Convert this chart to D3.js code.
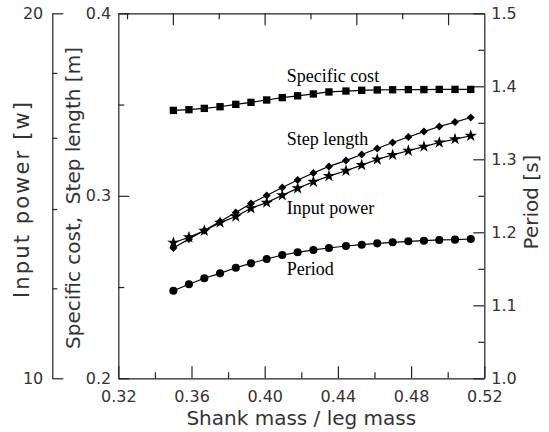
<!DOCTYPE html>
<html>
<head>
  <meta charset="UTF-8">
  <style>
    body { margin: 0; background: #fff; }
    svg { display: block; }
    .axis text { font-family: "DejaVu Sans", sans-serif; font-size: 16px; fill: #333; }
    .axis path, .axis line { stroke: #222; stroke-width: 1.2px; }
    .title { font-family: "DejaVu Sans", sans-serif; font-size: 20px; fill: #333; }
    .note { font-family: "Liberation Serif", "Times New Roman", serif; font-size: 18px; fill: #000; }
  </style>
</head>
<body>
<div id="chart"></div>
<script src="https://d3js.org/d3.v7.min.js"></script>
<script>
// shank mass / leg mass
const massRatio = [0.3501, 0.3586, 0.3670, 0.3756, 0.3842, 0.3925, 0.4011, 0.4096, 0.4180, 0.4266,
                   0.4351, 0.4444, 0.4530, 0.4615, 0.4699, 0.4785, 0.4870, 0.4954, 0.5040, 0.5126];
// left inner axis (0.2 - 0.4)
const specificCost = [0.3468, 0.3472, 0.3479, 0.3488, 0.3501, 0.3512, 0.3525, 0.3538, 0.3548, 0.3558,
                      0.3569, 0.3574, 0.3578, 0.3580, 0.3581, 0.3582, 0.3582, 0.3583, 0.3583, 0.3583];
const stepLength = [0.2714, 0.2763, 0.2810, 0.2859, 0.2908, 0.2958, 0.3002, 0.3045, 0.3087, 0.3125,
                    0.3161, 0.3193, 0.3226, 0.3259, 0.3292, 0.3322, 0.3352, 0.3380, 0.3404, 0.3429];
// left outer axis [W]
const inputPower = [13.12, 13.26, 13.43, 13.64, 13.80, 14.02, 14.17, 14.37, 14.56, 14.74,
                    14.90, 15.05, 15.21, 15.37, 15.50, 15.62, 15.74, 15.86, 15.96, 16.06];
// right axis [s]
const period = [1.1200, 1.1288, 1.1370, 1.1438, 1.1515, 1.1575, 1.1634, 1.1689, 1.1726, 1.1758,
                1.1785, 1.1812, 1.1830, 1.1849, 1.1863, 1.1877, 1.1885, 1.1895, 1.1899, 1.1908];

const xTicks = [0.32, 0.36, 0.40, 0.44, 0.48, 0.52];
const xMinor = [0.34, 0.38, 0.42, 0.46, 0.50];
const leftTicks = [0.2, 0.3, 0.4];
const leftMinor = [0.25, 0.35];
const powerTicks = [10, 20];
const powerMinor = [12, 14, 16, 18];
const periodTicks = [1.0, 1.1, 1.2, 1.3, 1.4, 1.5];
const periodMinor = [1.05, 1.15, 1.25, 1.35, 1.45];
const topMajor = [1, 3, 5, 7];
const topMinor = [0, 2, 4, 6];

// curve labels: [text, x, value on left inner axis]
const labels = [
  ["Specific cost", 0.412, 0.3622],
  ["Step length", 0.412, 0.3278],
  ["Input power", 0.412, 0.2899],
  ["Period", 0.412, 0.2568]
];

let width = 549, height = 432;
let x0 = 118.3, x1 = 484.3, yTop = 13.3, yBot = 378.3, outerX = 52.3;

let svg = d3.select("#chart").append("svg")
    .attr("width", width)
    .attr("height", height);

let x = d3.scaleLinear().domain([0.32, 0.52]).range([x0, x1]);
let xTop = d3.scaleLinear().domain([-0.19, 7.79]).range([x0, x1]);
let yLeft = d3.scaleLinear().domain([0.2, 0.4]).range([yBot, yTop]);
let yPower = d3.scalePow().exponent(0.25).domain([10, 20]).range([yBot, yTop]);
let yPeriod = d3.scaleLinear().domain([1.0, 1.5]).range([yBot, yTop]);

function addAxis(axis, tx, ty) {
  return svg.append("g").attr("class", "axis")
    .attr("transform", "translate(" + tx + "," + ty + ")")
    .call(axis);
}
function minorAxis(axis, tx, ty) {
  let g = addAxis(axis.tickFormat(""), tx, ty);
  g.select(".domain").remove();
  return g;
}

// bottom
addAxis(d3.axisBottom(x).tickValues(xTicks).tickSizeInner(-12).tickSizeOuter(0)
  .tickPadding(12).tickFormat(d3.format(".2f")), 0, yBot);
minorAxis(d3.axisBottom(x).tickValues(xMinor).tickSizeInner(-6).tickSizeOuter(0), 0, yBot);

// top frame (no labels)
addAxis(d3.axisTop(xTop).tickValues(topMajor).tickSizeInner(-12).tickSizeOuter(0).tickFormat(""), 0, yTop);
minorAxis(d3.axisTop(xTop).tickValues(topMinor).tickSizeInner(-6).tickSizeOuter(0), 0, yTop);

// left inner
addAxis(d3.axisLeft(yLeft).tickValues(leftTicks).tickSizeInner(-11).tickSizeOuter(0)
  .tickPadding(7).tickFormat(d3.format(".1f")), x0, 0);
minorAxis(d3.axisLeft(yLeft).tickValues(leftMinor).tickSizeInner(-6).tickSizeOuter(0), x0, 0);

// left outer
addAxis(d3.axisLeft(yPower).tickValues(powerTicks).tickSizeInner(-11).tickSizeOuter(0)
  .tickPadding(9).tickFormat(d3.format("d")), outerX, 0);
minorAxis(d3.axisLeft(yPower).tickValues(powerMinor).tickSizeInner(-5).tickSizeOuter(0), outerX, 0);

// right
addAxis(d3.axisRight(yPeriod).tickValues(periodTicks).tickSizeInner(-11).tickSizeOuter(0)
  .tickPadding(7).tickFormat(d3.format(".1f")), x1, 0);
minorAxis(d3.axisRight(yPeriod).tickValues(periodMinor).tickSizeInner(-6).tickSizeOuter(0), x1, 0);

// series
let series = [
  {vals: specificCost, y: yLeft, sym: d3.symbolSquare, size: 54, rot: 0},
  {vals: stepLength, y: yLeft, sym: d3.symbolSquare, size: 32, rot: 45},
  {vals: inputPower, y: yPower, sym: d3.symbolStar, size: 46, rot: 0},
  {vals: period, y: yPeriod, sym: d3.symbolCircle, size: 52, rot: 0}
];

series.forEach(s => {
  let pts = massRatio.map((m, i) => [x(m), s.y(s.vals[i])]);
  svg.append("path")
    .attr("d", d3.line()(pts))
    .attr("fill", "none")
    .attr("stroke", "#000")
    .attr("stroke-width", 1.2);
  svg.append("g").selectAll("path")
    .data(pts)
    .enter()
    .append("path")
    .attr("d", d3.symbol().type(s.sym).size(s.size))
    .attr("transform", d => "translate(" + d[0] + "," + d[1] + ") rotate(" + s.rot + ")")
    .attr("fill", "#000");
});

// curve labels
svg.selectAll(".note")
  .data(labels)
  .enter()
  .append("text")
  .attr("class", "note")
  .attr("x", d => x(d[1]))
  .attr("y", d => yLeft(d[2]))
  .text(d => d[0]);

// axis titles
svg.append("text").attr("class", "title")
  .attr("x", (x0 + x1) / 2).attr("y", 425)
  .attr("text-anchor", "middle")
  .text("Shank mass / leg mass");

svg.append("text").attr("class", "title")
  .attr("transform", "translate(29,200) rotate(-90)")
  .attr("text-anchor", "middle")
  .style("font-size", "21px")
  .attr("textLength", 196)
  .attr("lengthAdjust", "spacing")
  .text("Input power [w]");

svg.append("text").attr("class", "title")
  .attr("transform", "translate(80,198) rotate(-90)")
  .attr("text-anchor", "middle")
  .text("Specific cost,\u00A0 Step length [m]");

svg.append("text").attr("class", "title")
  .attr("transform", "translate(538,202) rotate(-90)")
  .attr("text-anchor", "middle")
  .text("Period [s]");
</script>
</body>
</html>
